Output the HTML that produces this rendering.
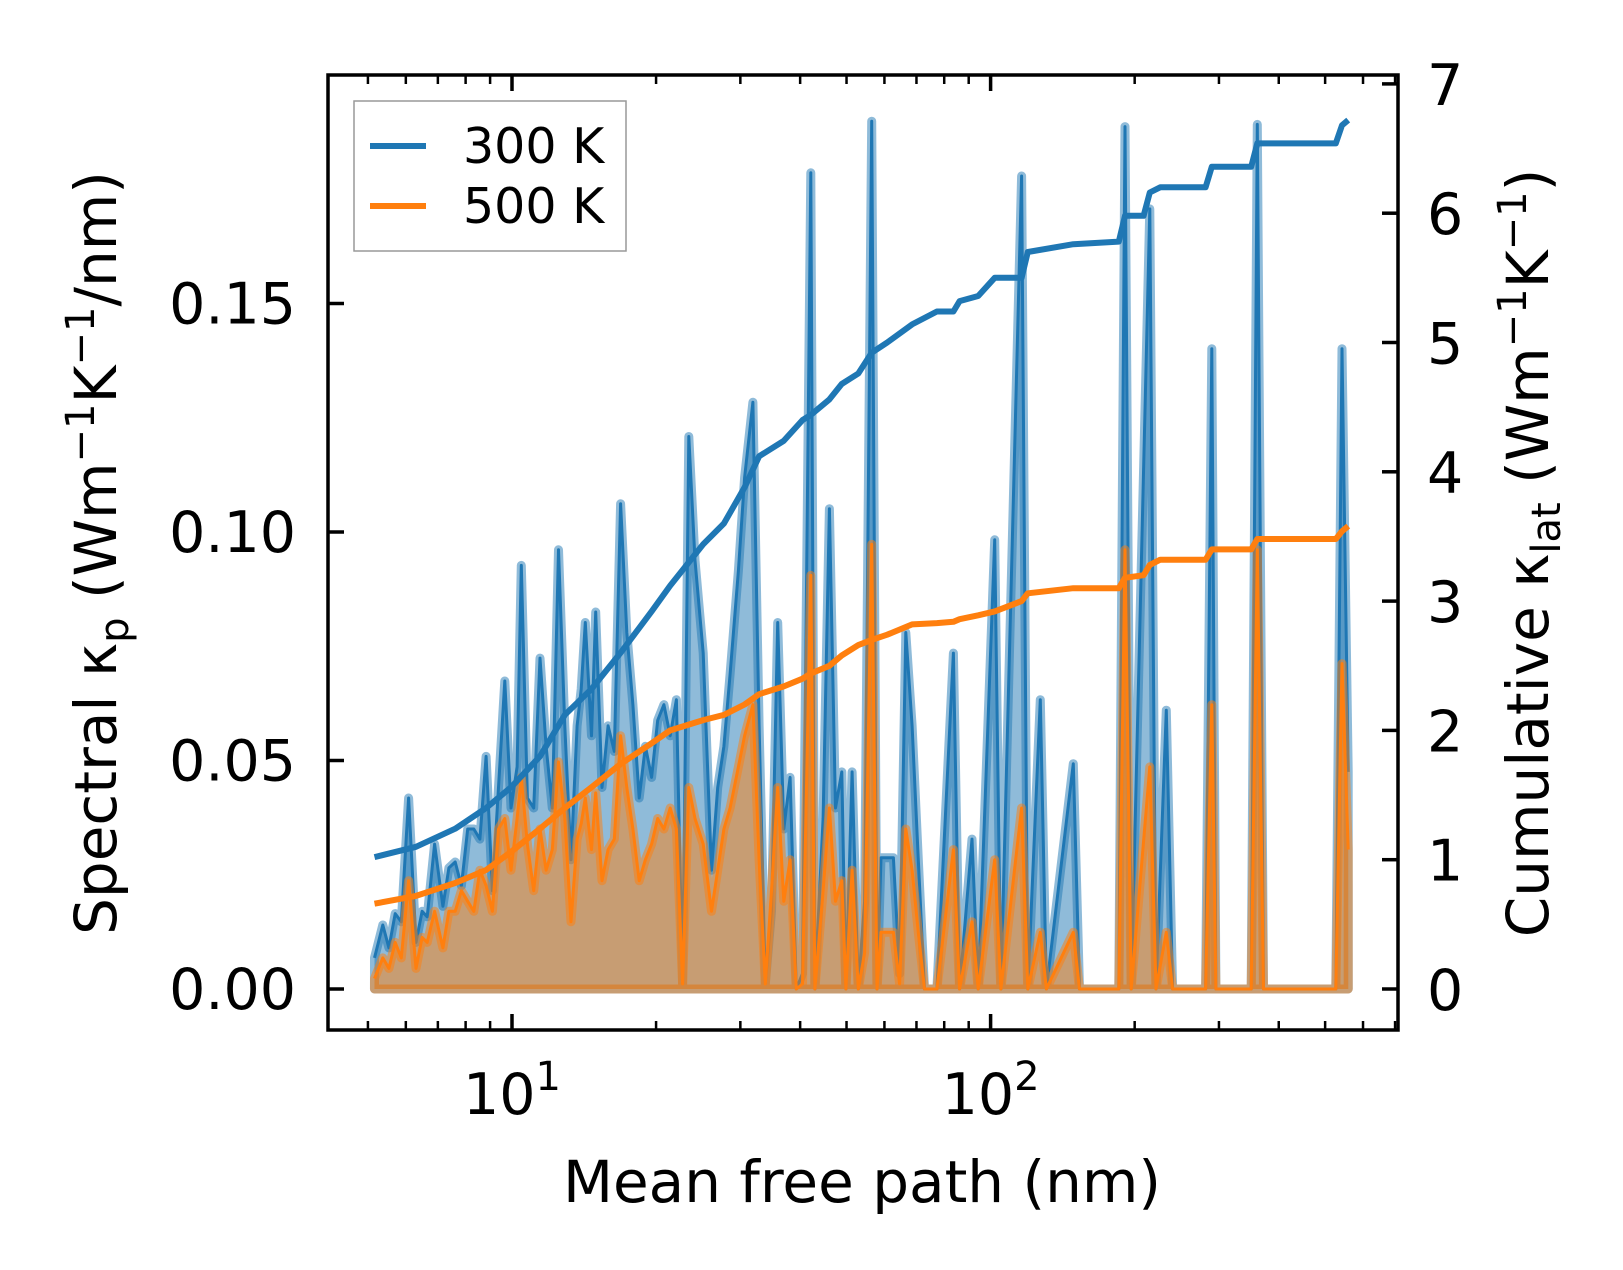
<!DOCTYPE html>
<html><head><meta charset="utf-8"><style>
html,body{margin:0;padding:0;background:#fff;}
svg{display:block;font-family:"DejaVu Sans","Liberation Sans",sans-serif;}
</style></head><body>
<svg id="chart" width="1623" height="1270" viewBox="0 0 1623 1270" xmlns="http://www.w3.org/2000/svg" style="position:absolute;left:0;top:0;">
<g id="plot"></g>
</svg>
<script>
const mfp = [5.16,5.37,5.53,5.70,5.87,6.08,6.30,6.49,6.65,6.89,7.17,7.38,7.61,7.84,8.08,8.32,8.57,8.83,9.10,9.37,9.66,9.95,10.25,10.46,10.77,11.10,11.44,11.78,12.14,12.51,12.89,13.28,13.68,13.95,14.23,14.66,14.96,15.42,15.88,16.36,16.86,17.37,17.89,18.44,19.00,19.57,20.16,20.77,21.41,22.05,22.72,23.41,24.12,25.09,26.11,26.90,27.72,28.56,29.72,30.62,31.86,32.83,33.82,34.85,35.91,36.98,38.11,39.26,40.45,42.10,42.94,44.68,46.04,47.42,48.87,49.85,51.36,52.92,54.53,56.45,57.89,59.03,60.81,62.66,64.55,66.51,68.53,70.62,72.75,77.23,83.60,86.14,91.44,94.21,102.0,105.1,116.1,119.6,127.0,130.8,148.9,153.4,185.3,190.9,196.7,215.1,221.6,232.9,240.0,281.3,289.9,295.7,350.3,360.8,371.7,526.4,542.4,558.8];
const spec300 = [.0068,.0140,.0090,.0165,.0147,.0418,.0102,.0170,.0158,.0317,.0181,.0265,.0278,.0226,.0350,.0350,.0328,.0509,.0215,.0441,.0674,.0396,.0486,.0927,.0418,.0396,.0724,.0531,.0396,.0961,.0576,.0283,.0576,.0656,.0802,.0554,.0825,.0441,.0576,.0520,.1062,.0780,.0622,.0418,.0531,.0463,.0588,.0622,.0554,.0633,.0011,.1209,.0938,.0735,.0260,.0441,.0531,.0689,.0915,.1119,.1284,.0576,.0011,.0170,.0802,.0350,.0463,0,.0034,.1786,0,.0373,.1051,.0396,.0475,0,.0475,0,.0192,.1899,0,.0287,.0287,.0287,.0034,.0780,.0576,.0283,0,0,.0735,0,.0328,0,.0983,0,.1779,0,.0633,0,.0493,0,0,.1887,0,.1707,0,.0610,0,0,.1401,0,0,.1892,0,0,.1401,.0475];
const spec500 = [.0023,.0068,.0045,.0102,.0068,.0237,.0045,.0113,.0102,.0170,.0090,.0170,.0170,.0215,.0192,.0170,.0260,.0226,.0170,.0350,.0373,.0260,.0373,.0463,.0317,.0215,.0350,.0260,.0305,.0497,.0373,.0147,.0328,.0362,.0418,.0305,.0429,.0237,.0305,.0328,.0554,.0441,.0350,.0237,.0283,.0317,.0373,.0350,.0396,.0350,.0011,.0441,.0373,.0317,.0170,.0260,.0350,.0396,.0486,.0554,.0622,.0283,.0011,.0215,.0441,.0192,.0283,0,.0011,.0905,0,.0215,.0396,.0192,.0237,0,.0260,0,.0079,.0973,0,.0124,.0124,.0124,.0011,.0350,.0260,.0124,0,0,.0305,0,.0147,0,.0283,0,.0396,0,.0124,0,.0124,0,0,.0961,0,.0486,0,.0124,0,0,.0622,0,0,.0961,0,0,.0712,.0305];
const cumX = [5.16,6.30,7.61,8.83,9.95,11.44,12.89,14.66,16.86,19.57,21.41,25.09,27.72,30.62,32.83,36.98,40.45,42.10,46.04,48.87,52.92,56.45,60.81,68.53,77.23,83.6,86.14,94.21,102,116.1,119.6,148.9,185.3,190.9,208.8,215.1,226.1,281.3,289.9,350.3,360.8,526.4,542.4,558.8];
const cum300 = [1.02,1.10,1.24,1.40,1.56,1.80,2.12,2.32,2.6,2.92,3.12,3.44,3.6,3.88,4.12,4.24,4.40,4.44,4.56,4.68,4.76,4.92,5.0,5.14,5.24,5.24,5.32,5.36,5.5,5.5,5.7,5.76,5.78,5.98,5.98,6.16,6.2,6.2,6.36,6.36,6.54,6.54,6.68,6.72];
const cum500 = [0.66,0.72,0.82,0.92,1.06,1.24,1.40,1.56,1.74,1.9,2.0,2.08,2.12,2.2,2.28,2.34,2.40,2.44,2.5,2.58,2.66,2.7,2.74,2.82,2.83,2.84,2.86,2.89,2.92,3.0,3.06,3.1,3.1,3.18,3.2,3.28,3.32,3.32,3.4,3.4,3.48,3.48,3.54,3.58];
const leftTicks = [0, 0.05, 0.10, 0.15];
const leftTickLabels = ["0.00","0.05","0.10","0.15"];
const rightTicks = [0,1,2,3,4,5,6,7];
const xMajor = [10, 100];
const xMinor = [5,6,7,8,9,20,30,40,50,60,70,80,90,200,300,400,500,600,700];

const L=328,R=1398,T=75,B=1030;
const xs = v => 512 + (Math.log10(v)-1)*478.6;
const yl = v => 989 - v*4570;
const yr = v => 989 - v*129.3;
const NS="http://www.w3.org/2000/svg";
const svg=document.getElementById('chart');
function mk(tag,attrs,parent){const e=document.createElementNS(NS,tag);for(const k in attrs)e.setAttribute(k,attrs[k]);(parent||svg).appendChild(e);return e;}
const plot=document.getElementById('plot');

function spectral(vals,color,name){
  let pts=mfp.map((m,i)=>xs(m).toFixed(1)+','+yl(vals[i]).toFixed(1));
  const poly=mk('polygon',{points:xs(mfp[0])+','+yl(0)+' '+pts.join(' ')+' '+xs(mfp[mfp.length-1])+','+yl(0),fill:color,'fill-opacity':0.5,stroke:color,'stroke-opacity':0.5,'stroke-width':9,'stroke-linejoin':'round'},plot);
  
  
  const line=mk('polyline',{points:pts.join(' '),fill:'none',stroke:color,'stroke-width':3,'stroke-linejoin':'round'},plot);
  
  
}
spectral(spec300,'#1f77b4','spectral-300k');
spectral(spec500,'#ff7f0e','spectral-500k');
function cum(vals,color,name){
  const pts=cumX.map((m,i)=>xs(m).toFixed(1)+','+yr(vals[i]).toFixed(1)).join(' ');
  const l=mk('polyline',{points:pts,fill:'none',stroke:color,'stroke-width':6,'stroke-linejoin':'round'},plot);
  
  
}
cum(cum300,'#1f77b4','cumulative-300k');
cum(cum500,'#ff7f0e','cumulative-500k');

const fr=mk('rect',{x:L,y:T,width:R-L,height:B-T,fill:'none',stroke:'#000','stroke-width':3.5});



leftTicks.forEach((v,i)=>{
  mk('line',{x1:L,x2:L+16,y1:yl(v),y2:yl(v),stroke:'#000','stroke-width':3.5});
  const t=mk('text',{x:296,y:yl(v)+20,'text-anchor':'end','font-size':57},svg);
  t.textContent=leftTickLabels[i];
  
  
});
rightTicks.forEach(v=>{
  mk('line',{x1:R-16,x2:R,y1:yr(v),y2:yr(v),stroke:'#000','stroke-width':3.5});
  const t=mk('text',{x:1427,y:yr(v)+21,'font-size':57},svg);
  t.textContent=String(v);
  
  
});
xMajor.forEach((v,i)=>{
  const x=xs(v);
  mk('line',{x1:x,x2:x,y1:B,y2:B-16,stroke:'#000','stroke-width':3.5});
  mk('line',{x1:x,x2:x,y1:T,y2:T+16,stroke:'#000','stroke-width':3.5});
  const t=mk('text',{x:x,y:1114,'text-anchor':'middle','font-size':57},svg);
  t.innerHTML='10<tspan dy="-24" font-size="40">'+(i+1)+'</tspan>';
  
  
});
xMinor.forEach(v=>{
  const x=xs(v);
  mk('line',{x1:x,x2:x,y1:B,y2:B-9,stroke:'#000','stroke-width':2.5});
  mk('line',{x1:x,x2:x,y1:T,y2:T+9,stroke:'#000','stroke-width':2.5});
});
</script>
<svg width="1623" height="1270" style="position:absolute;left:0;top:0;font-family:'DejaVu Sans','Liberation Sans',sans-serif;">
<g>
<rect x="354" y="101" width="272" height="150" fill="#fff" fill-opacity="0.8" stroke="#999" stroke-width="1.5"/>
<line x1="370" y1="146" x2="426" y2="146" stroke="#1f77b4" stroke-width="6"/>
<text x="463" y="163" font-size="49">300 K</text>
<line x1="370" y1="206" x2="426" y2="206" stroke="#ff7f0e" stroke-width="6"/>
<text x="463" y="223" font-size="49">500 K</text>
</g>
<text x="862" y="1202" text-anchor="middle" font-size="58">Mean free path (nm)</text>
<text transform="translate(116,553) rotate(-90)" text-anchor="middle" font-size="58">Spectral κ<tspan font-size="40" dy="12">p</tspan><tspan dy="-12"> (Wm</tspan><tspan font-size="40" dy="-22">−1</tspan><tspan dy="22">K</tspan><tspan font-size="40" dy="-22">−1</tspan><tspan dy="22">/nm)</tspan></text>
<text transform="translate(1548,553) rotate(-90)" text-anchor="middle" font-size="58">Cumulative κ<tspan font-size="40" dy="12">lat</tspan><tspan dy="-12"> (Wm</tspan><tspan font-size="40" dy="-22">−1</tspan><tspan dy="22">K</tspan><tspan font-size="40" dy="-22">−1</tspan><tspan dy="22">)</tspan></text>
</svg>
</body></html>
